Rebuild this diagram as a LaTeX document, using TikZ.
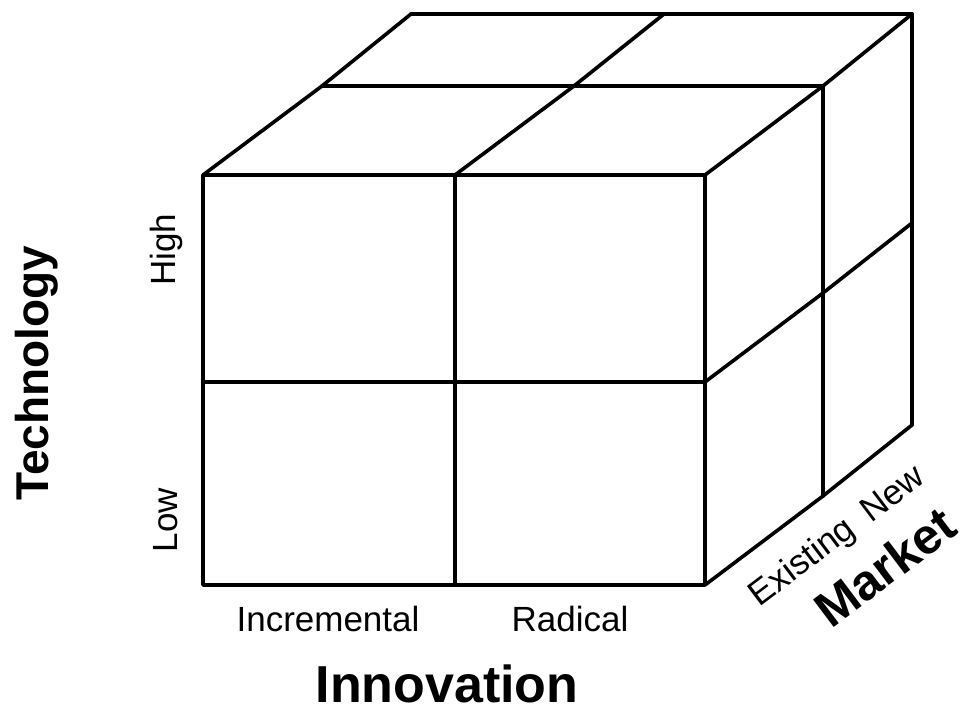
\documentclass[tikz,border=0pt]{standalone}
\usepackage{fontspec}
\setmainfont{Liberation Sans}
\begin{document}
\begin{tikzpicture}[x=1pt,y=-1pt,
  edge/.style={line width=3.6pt,line cap=round,line join=round},
  lbl/.style={inner sep=0pt,font=\fontsize{35}{38}\selectfont},
  axis/.style={inner sep=0pt,font=\bfseries\fontsize{52}{56}\selectfont}]
\useasboundingbox (0,0) rectangle (964,706);
% front face corners
\coordinate (ftl) at (203,175);
\coordinate (ftm) at (455,175);
\coordinate (ftr) at (705,175);
\coordinate (fml) at (203,382);
\coordinate (fmr) at (705,382);
\coordinate (fbl) at (203,585);
\coordinate (fbm) at (455,585);
\coordinate (fbr) at (705,585);
% depth offsets
\coordinate (mtl) at (322,86);
\coordinate (mtm) at (574,86);
\coordinate (mtr) at (823,86);
\coordinate (mmr) at (823,293);
\coordinate (mbr) at (823,496);
\coordinate (btl) at (411,14);
\coordinate (btm) at (664,14);
\coordinate (btr) at (912,14);
\coordinate (bmr) at (912,223);
\coordinate (bbr) at (912,425);
% front face
\draw[edge] (ftl) -- (ftr) -- (fbr) -- (fbl) -- cycle;
\draw[edge] (ftm) -- (fbm);
\draw[edge] (fml) -- (fmr);
% top face
\draw[edge] (ftl) -- (mtl) -- (btl);
\draw[edge] (ftm) -- (mtm) -- (btm);
\draw[edge] (ftr) -- (mtr) -- (btr);
\draw[edge] (mtl) -- (mtr);
\draw[edge] (btl) -- (btr);
% right face
\draw[edge] (mtr) -- (mbr);
\draw[edge] (btr) -- (bbr);
\draw[edge] (fmr) -- (mmr) -- (bmr);
\draw[edge] (fbr) -- (mbr) -- (bbr);
% labels
\node[lbl,rotate=90] (high) at (166,250) {High};
\node[lbl,rotate=90] (low) at (166,520) {Low};
\node[lbl] (incr) at (328,619) {Incremental};
\node[lbl] (rad) at (570,619) {Radical};
\node[lbl,rotate=37] (exist) at (803,563) {Existing};
\node[lbl,rotate=37] (new) at (892,493) {New};
\node[axis,rotate=90,font=\bfseries\fontsize{46}{50}\selectfont] (tech) at (37,373) {Technology};
\node[axis] (innov) at (447,684) {Innovation};
\node[axis,rotate=37,font=\bfseries\fontsize{50}{54}\selectfont] (market) at (885,567) {Market};
\end{tikzpicture}
\end{document}
